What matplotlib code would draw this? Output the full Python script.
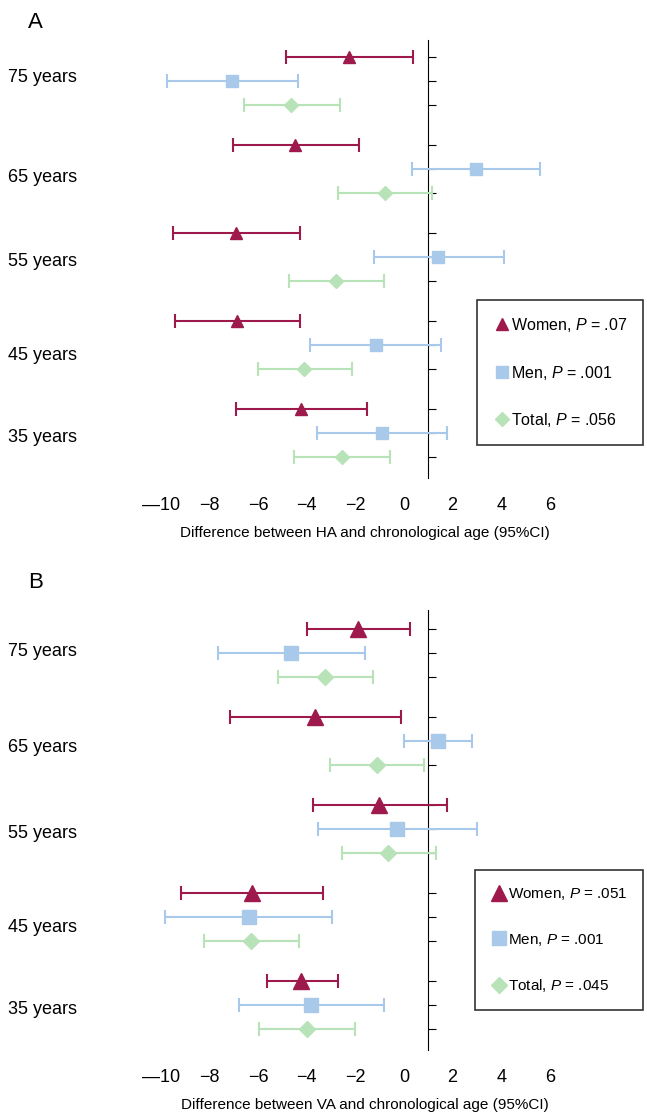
import matplotlib.pyplot as plt
from matplotlib.lines import Line2D

plt.rcParams['font.family'] = ['Liberation Sans', 'DejaVu Sans']
plt.rcParams['mathtext.fontset'] = 'custom'
plt.rcParams['mathtext.it'] = 'Liberation Sans:italic'
plt.rcParams['mathtext.rm'] = 'Liberation Sans'

ages = ['75 years', '65 years', '55 years', '45 years', '35 years']

# Panel A (HA) : centre, low, high for each age group (top to bottom)
a_women = [-2.26, -4.49, -6.9, -6.87, -4.24]
a_women_lo = [-4.85, -7.04, -9.5, -9.42, -6.9]
a_women_hi = [0.37, -1.85, -4.28, -4.28, -1.52]
a_men = [-7.08, 2.96, 1.4, -1.15, -0.9]
a_men_lo = [-9.75, 0.33, -1.23, -3.87, -3.58]
a_men_hi = [-4.36, 5.6, 4.1, 1.52, 1.77]
a_total = [-4.65, -0.78, -2.8, -4.1, -2.55]
a_total_lo = [-6.58, -2.72, -4.73, -6.0, -4.53]
a_total_hi = [-2.63, 1.15, -0.82, -2.14, -0.58]

# Panel B (VA)
b_women = [-1.9, -3.66, -1.03, -6.25, -4.24]
b_women_lo = [-4.0, -7.16, -3.74, -9.18, -5.64]
b_women_hi = [0.25, -0.12, 1.77, -3.33, -2.72]
b_men = [-4.65, 1.4, -0.29, -6.38, -3.83]
b_men_lo = [-7.65, 0.0, -3.54, -9.84, -6.8]
b_men_hi = [-1.6, 2.8, 3.0, -2.96, -0.82]
b_total = [-3.25, -1.1, -0.66, -6.3, -4.0]
b_total_lo = [-5.2, -3.05, -2.55, -8.23, -5.97]
b_total_hi = [-1.28, 0.82, 1.32, -4.32, -2.0]

xticks = [-10, -8, -6, -4, -2, 0, 2, 4, 6]
xticklabels = ['\u201410', '\u22128', '\u22126', '\u22124', '\u22122', '0', '2', '4', '6']

c_women = '#9e1a4c'
c_men = '#a9c9ea'
c_total = '#b8e2b8'

W, H = 647, 1112
fig = plt.figure(figsize=(W / 100, H / 100), dpi=100)

px0, ppu = 404, 24.3
xl = ((130 - px0) / ppu, (600 - px0) / ppu)


def panel(top, bottom, first_row, series, xlabel, label_y, leg_pos, pvals, legfs):
    ax = fig.add_axes([130 / W, 1 - bottom / H, 470 / W, (bottom - top) / H])
    ax.set_xlim(*xl)
    ax.set_ylim(bottom - first_row, top - first_row)
    for s in ['top', 'right', 'bottom']:
        ax.spines[s].set_visible(False)
    ax.spines['left'].set_position(('data', 1))
    rows = []
    for k, (c, lo, hi, col, mk, ms) in enumerate(series):
        ys = [g * 88 + k * 24 for g in range(5)]
        rows += ys
        ax.errorbar(c, ys, xerr=[[a - b for a, b in zip(c, lo)], [b - a for a, b in zip(c, hi)]],
                    fmt=mk, color=col, ms=ms, capsize=5, elinewidth=1.5, capthick=1.5,
                    mec=col, zorder=3)
    ax.set_yticks(rows)
    ax.set_yticklabels([])
    ax.tick_params(axis='y', direction='in', length=6)
    ax.set_xticks(xticks)
    ax.set_xticklabels(xticklabels, fontsize=13)
    ax.tick_params(axis='x', length=0, pad=14)
    ax.set_xlabel(xlabel, fontsize=11, labelpad=8)
    for name, yy in zip(ages, label_y):
        fig.text(8 / W, 1 - yy / H, name, fontsize=13, va='center', ha='left')
    handles = [Line2D([], [], ls='none', marker=s[4], color=s[3], ms=s[5]) for s in series]
    labels = ['Women, $P$ = ' + pvals[0], 'Men, $P$ = ' + pvals[1], 'Total, $P$ = ' + pvals[2]]
    x0, y0 = leg_pos
    leg = fig.legend(handles, labels, loc='upper left', bbox_to_anchor=(x0 / W, 1 - y0 / H),
                     frameon=True, fancybox=False, edgecolor='black', fontsize=legfs,
                     handletextpad=0.0, handlelength=1.1, labelspacing=1.85 * 11.5 / legfs,
                     borderpad=1.0 * 11.5 / legfs, borderaxespad=0)
    leg.get_frame().set_linewidth(1.2)
    return ax


sa = [(a_women, a_women_lo, a_women_hi, c_women, '^', 8),
      (a_men, a_men_lo, a_men_hi, c_men, 's', 9),
      (a_total, a_total_lo, a_total_hi, c_total, 'D', 7)]
panel(40, 478, 57, sa, 'Difference between HA and chronological age (95%CI)',
      [78, 177, 262, 355, 437], (477, 300), ['.07', '.001', '.056'], 11.5)
fig.text(28 / W, 1 - 22 / H, 'A', fontsize=16, va='center')

sb = [(b_women, b_women_lo, b_women_hi, c_women, '^', 11),
      (b_men, b_men_lo, b_men_hi, c_men, 's', 10),
      (b_total, b_total_lo, b_total_hi, c_total, 'D', 8)]
panel(610, 1050, 629, sb, 'Difference between VA and chronological age (95%CI)',
      [651, 748, 834, 928, 1010], (475, 870), ['.051', '.001', '.045'], 11)
fig.text(28 / W, 1 - 583 / H, 'B', fontsize=16, va='center')

fig.savefig('out.png', dpi=100)
